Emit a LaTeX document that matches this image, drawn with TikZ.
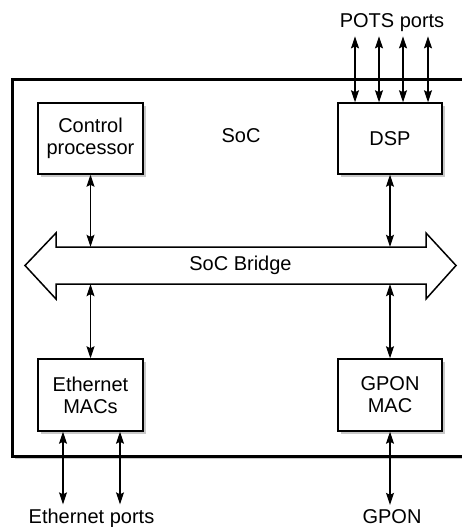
\documentclass[tikz,border=0pt]{standalone}
\usepackage{fontspec}
\setmainfont{Liberation Sans}
\usepackage{tikz}
\usetikzlibrary{positioning}
\usetikzlibrary{calc}
\usetikzlibrary{arrows.meta}
\usetikzlibrary{shadows}

\begin{document}
\begin{tikzpicture}[x=1pt,y=-1pt,
		font=\fontsize{20}{22}\selectfont,
		unit/.style={draw, line width=1.5pt, fill=white, align=center, inner sep=0pt,
			drop shadow={shadow xshift=3pt, shadow yshift=-3pt, fill=black!30, opacity=0.7}},
		port/.style={inner sep=4pt, anchor=base},
		link/.style={line width=1.1pt, {Stealth[length=12pt,width=8pt,inset=2pt]}-{Stealth[length=12pt,width=8pt,inset=2pt]}}]
		\clip (0,0) rectangle (462,527);
		\node [draw, line width=3pt, fill=white, minimum width=478pt, minimum height=377pt,
			drop shadow={shadow xshift=3pt, shadow yshift=-3pt, fill=black!30, opacity=0.7}] at (251,267.5) (soc) {};
		\node [anchor=base] at (241,142) (socname) {SoC};
		\node [unit, minimum width=105pt, minimum height=71pt] at (90.5,138.5) (ctrl) {Control\\processor};
		\node [unit, minimum width=104pt, minimum height=71pt] at (390,138.5) (dsp) {DSP};
		\node [unit, minimum width=105pt, minimum height=72pt] at (90.5,395) (eth) {Ethernet\\MACs};
		\node [unit, minimum width=104pt, minimum height=72pt] at (390,395) (gpon) {GPON\\MAC};
		% bridge
		\draw [line width=1.5pt, line join=miter, fill=white] (25,265.5) -- (56,233) -- (56,247) -- (426,247) -- (426,233) -- (456,265.5)
			-- (426,299) -- (426,284) -- (56,284) -- (56,299) -- cycle;
		\node [minimum height=37pt, inner sep=0pt] at (240.5,265.5) (bridge) {SoC Bridge};
		\draw [link] (ctrl.south) -- (ctrl.south |- bridge.north);
		\draw [link] (dsp.south) -- (dsp.south |- bridge.north);
		\draw [link] (eth.north |- bridge.south) -- (eth.north);
		\draw [link] (gpon.north |- bridge.south) -- (gpon.north);
		% ports
		\node [port] at (392,28) (pots) {POTS ports};
		\node [port] at (91.5,523) (ethports) {Ethernet ports};
		\node [port] at (392,523) (gponport) {GPON};
		\foreach \dx in {-35,-11,13,38}
			\draw [link] ([xshift=\dx pt]dsp.north) -- ([xshift=\dx pt]dsp.north |- pots.south);
		\foreach \dx in {-27.5,29.5}
			\draw [link] ([xshift=\dx pt]eth.south) -- ([xshift=\dx pt]eth.south |- ethports.north);
		\draw [link] (gpon.south) -- (gpon.south |- gponport.north);
\end{tikzpicture}
\end{document}
